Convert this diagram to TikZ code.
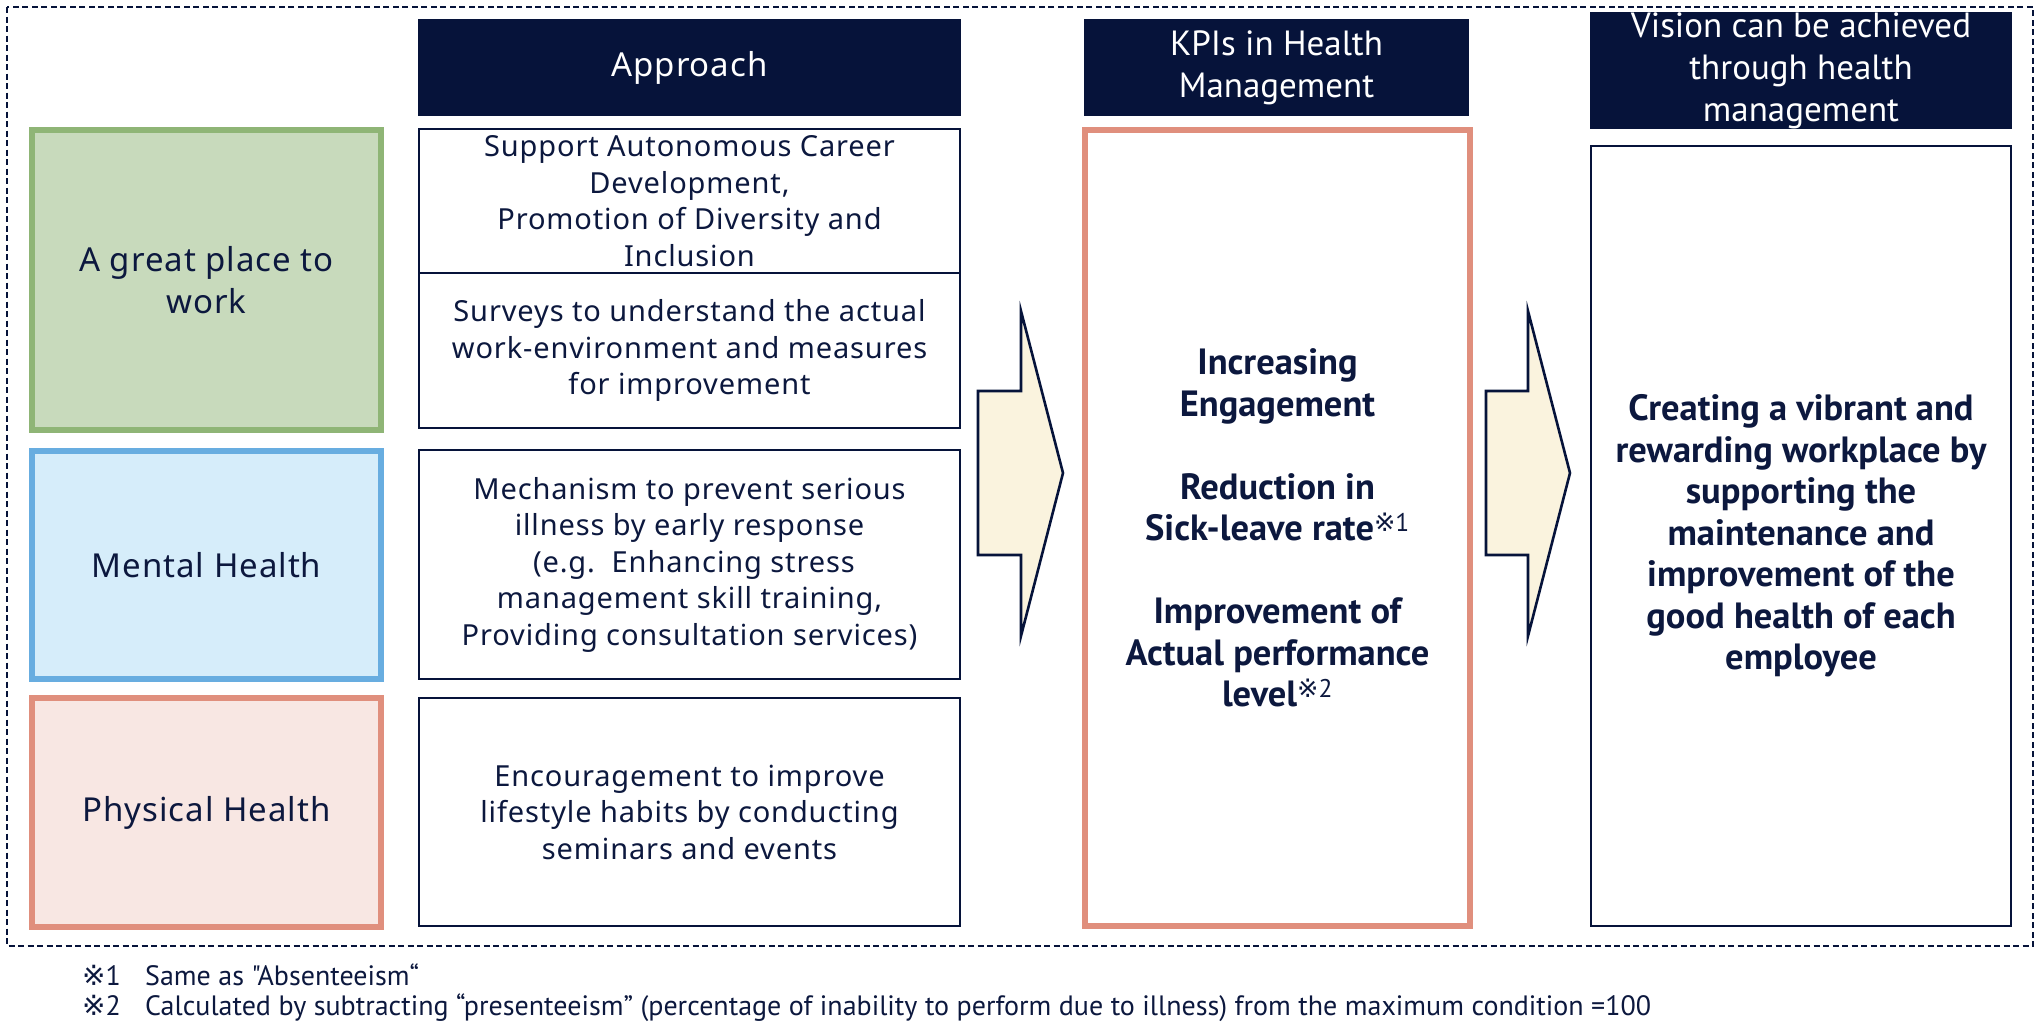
\documentclass[tikz,border=0pt]{standalone}
\usepackage{fontspec}
\setmainfont{Noto Sans}
\newfontfamily\bodyfont[LetterSpace=3]{Noto Sans}
\newfontfamily\headfont{PT Sans}
\newfontfamily\markfont{DejaVu Sans}
\usepackage{xcolor}
\usetikzlibrary{positioning}

\definecolor{navy}{RGB}{6,19,58}
\definecolor{inkblue}{RGB}{12,24,62}
\definecolor{greenfill}{RGB}{200,218,188}
\definecolor{greenline}{RGB}{143,181,118}
\definecolor{bluefill}{RGB}{214,237,250}
\definecolor{blueline}{RGB}{104,173,224}
\definecolor{pinkfill}{RGB}{248,231,227}
\definecolor{pinkline}{RGB}{224,143,125}
\definecolor{creamfill}{RGB}{250,243,222}

\newcommand{\kpimark}[1]{\textsuperscript{{\markfont\mdseries ※}\mdseries#1}}

\begin{document}
\begin{tikzpicture}[x=1pt, y=-1pt,
    head/.style={fill=navy, text=white, font=\headfont\fontsize{35}{42}\selectfont, align=center, inner sep=0pt},
    pillar/.style={line width=6pt, text=inkblue, font=\bodyfont\fontsize{33}{42}\selectfont, align=center, minimum width=349pt},
    approach/.style={draw=navy, line width=2.5pt, fill=white, text=inkblue, font=\bodyfont\fontsize{29}{36.5}\selectfont, align=center, minimum width=541pt},
    result/.style={text=inkblue, font=\headfont\bfseries\fontsize{36.5}{41.5}\selectfont, align=center},
    blockarrow/.style={draw=navy, line width=2.6pt, fill=creamfill, line join=miter},
    note/.style={text=inkblue, font=\headfont\fontsize{28}{30}\selectfont, anchor=base west, inner sep=0pt}]
    \useasboundingbox (0,0) rectangle (2040,1034);

    % FRAME
    \draw[navy, line width=2pt, dash pattern=on 6pt off 3.5pt] (7,7) rectangle (2033,946);

    % LEFT: PILLARS
    \node (Work) [pillar, draw=greenline, fill=greenfill, minimum height=300pt] at (206.5,280) {A great place to\\work};
    \node (Mental) [pillar, draw=blueline, fill=bluefill, minimum height=228pt] at (206.5,565) {Mental Health};
    \node (Physical) [pillar, draw=pinkline, fill=pinkfill, minimum height=229pt] at (206.5,812.5) {Physical Health};

    % APPROACH
    \node (ApproachHead) [head, font=\bodyfont\fontsize{33}{42}\selectfont, minimum width=543pt, minimum height=97pt] at (689.5,67.5) {Approach};
    \node (Career) [approach, minimum height=144pt] at (689.5,201) {Support Autonomous Career\\Development,\\Promotion of Diversity and\\Inclusion};
    \node (Survey) [approach, minimum height=155pt] at (689.5,350.5) {Surveys to understand the actual\\work-environment and measures\\for improvement};
    \node (Mechanism) [approach, minimum height=229pt] at (689.5,564.5) {Mechanism to prevent serious\\illness by early response\\\hspace{0.3em}(e.g.\ \ Enhancing stress\\management skill training,\\Providing consultation services)};
    \node (Lifestyle) [approach, minimum height=228pt] at (689.5,812) {Encouragement to improve\\lifestyle habits by conducting\\seminars and events};

    % ARROWS
    \draw[blockarrow] (978,391) -- (1021,391) -- (1021,311) -- (1063,473) -- (1021,636) -- (1021,555) -- (978,555) -- cycle;
    \draw[blockarrow] (1486,391) -- (1528,391) -- (1528,311) -- (1570,473) -- (1528,636) -- (1528,555) -- (1486,555) -- cycle;

    % KPIS
    \node (KPIHead) [head, minimum width=385pt, minimum height=97pt] at (1276.5,67.5) {KPIs in Health\\Management};
    \node (KPIBox) [result, draw=pinkline, line width=6pt, minimum width=385pt, minimum height=796pt] at (1277.5,528) {Increasing\\Engagement\\[41.5pt]Reduction in\\Sick-leave rate\kpimark{1}\\[41.5pt]Improvement of\\Actual performance\\level\kpimark{2}};

    % VISION
    \node (VisionHead) [head, minimum width=422pt, minimum height=115pt] at (1801,70.5) {Vision can be achieved\\through health\\management};
    \node (VisionBox) [result, draw=navy, line width=2.5pt, minimum width=420pt, minimum height=780pt] at (1801,536) {Creating a vibrant and\\rewarding workplace by\\supporting the\\maintenance and\\improvement of the\\good health of each\\employee};

    % NOTES
    \node (Mark1) [note] at (82,985) {{\markfont ※}1};
    \node (Note1) [note] at (145,985) {Same as "Absenteeism“};
    \node (Mark2) [note] at (82,1015) {{\markfont ※}2};
    \node (Note2) [note] at (145,1015) {Calculated by subtracting “presenteeism” (percentage of inability to perform due to illness) from the maximum condition =100};
\end{tikzpicture}
\end{document}
